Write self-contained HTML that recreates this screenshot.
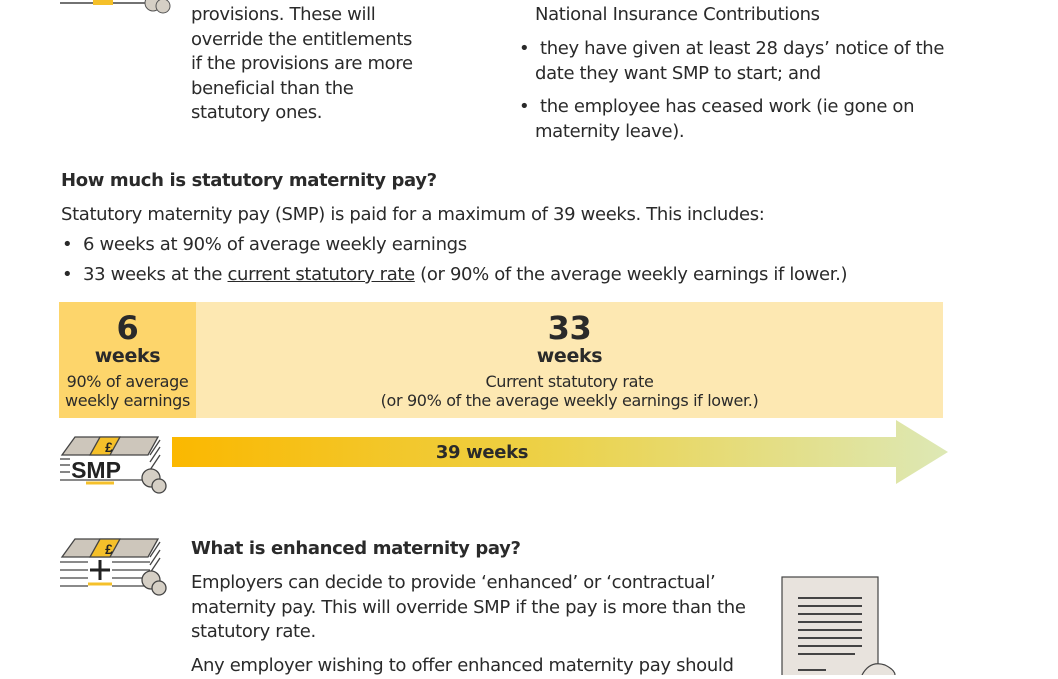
<!DOCTYPE html>
<html><head><meta charset="utf-8"><style>
body{margin:0;width:1058px;height:675px;overflow:hidden;background:#fff;font-family:"DejaVu Sans","Liberation Sans",sans-serif;color:#2a2a2a;position:relative}
.t{position:absolute;white-space:nowrap;font-size:18px;line-height:24.5px;letter-spacing:-0.35px}
.b{font-weight:bold}
.c{text-align:center}
</style></head><body>
<svg style="position:absolute;left:55px;top:0" width="120" height="20"><line x1="5" y1="3" x2="95" y2="3" stroke="#444" stroke-width="1.5"/><rect x="38" y="0" width="20" height="5" fill="#f5c02a"/><circle cx="98" cy="3" r="8" fill="#d5cfc5" stroke="#555"/><circle cx="108" cy="6" r="7" fill="#d5cfc5" stroke="#555"/></svg>
<div class="t" style="left:191px;top:3px">provisions. These will<br>override the entitlements<br>if the provisions are more<br>beneficial than the<br>statutory ones.</div>
<div class="t" style="left:535px;top:3px">National Insurance Contributions</div>
<div class="t" style="left:519px;top:37px">•&nbsp;&nbsp;they have given at least 28 days’ notice of the</div>
<div class="t" style="left:535px;top:62px">date they want SMP to start; and</div>
<div class="t" style="left:519px;top:95px">•&nbsp;&nbsp;the employee has ceased work (ie gone on</div>
<div class="t" style="left:535px;top:120px">maternity leave).</div>
<div class="t b" style="left:61px;top:169px">How much is statutory maternity pay?</div>
<div class="t" style="left:61px;top:203px">Statutory maternity pay (SMP) is paid for a maximum of 39 weeks. This includes:</div>
<div class="t" style="left:62px;top:233px">•&nbsp;&nbsp;6 weeks at 90% of average weekly earnings</div>
<div class="t" style="left:62px;top:263px">•&nbsp;&nbsp;33 weeks at the <u>current statutory rate</u> (or 90% of the average weekly earnings if lower.)</div>
<div style="position:absolute;left:59px;top:302px;width:137px;height:116px;background:#fdd56b"></div>
<div style="position:absolute;left:196px;top:302px;width:747px;height:116px;background:#fde8b2"></div>
<div class="t c b" style="left:59px;width:137px;top:308px;font-size:32px;line-height:40px">6</div>
<div class="t c b" style="left:59px;width:137px;top:344px;font-size:19px">weeks</div>
<div class="t c" style="left:59px;width:137px;top:372px;font-size:16px;line-height:19px">90% of average<br>weekly earnings</div>
<div class="t c b" style="left:196px;width:747px;top:308px;font-size:32px;line-height:40px">33</div>
<div class="t c b" style="left:196px;width:747px;top:344px;font-size:19px">weeks</div>
<div class="t c" style="left:196px;width:747px;top:372px;font-size:16px;line-height:19px">Current statutory rate<br>(or 90% of the average weekly earnings if lower.)</div>
<svg style="position:absolute;left:0;top:0" width="1058" height="675">
<defs><linearGradient id="g" x1="172" x2="948" y1="0" y2="0" gradientUnits="userSpaceOnUse"><stop offset="0" stop-color="#fbb800"/><stop offset="0.5" stop-color="#ecd24a"/><stop offset="1" stop-color="#dde8b5"/></linearGradient></defs>
<polygon points="172,437 896,437 896,420 948,452 896,484 896,467 172,467" fill="url(#g)"/>
<g stroke="#444" stroke-width="1.3">
<polygon points="75,437 158,437 148,455 62,455" fill="#cdc6bb"/>
<polygon points="100,437 120,437 110,455 90,455" fill="#f5c02a"/>
<line x1="60" y1="459" x2="70" y2="459"/><line x1="60" y1="465" x2="70" y2="465"/><line x1="60" y1="472" x2="70" y2="472"/>
<line x1="60" y1="480" x2="150" y2="480"/><line x1="150" y1="455" x2="160" y2="440"/><line x1="150" y1="462" x2="160" y2="447"/><line x1="150" y1="470" x2="160" y2="455"/>
<circle cx="151" cy="478" r="9" fill="#d5cfc5"/><circle cx="159" cy="486" r="7" fill="#d5cfc5"/>
</g>
<line x1="86" y1="483" x2="114" y2="483" stroke="#f5c02a" stroke-width="3"/>
<text x="96" y="478" font-family="Liberation Sans" font-weight="bold" font-size="23" text-anchor="middle" fill="#222">SMP</text>
<text x="109" y="452" font-family="Liberation Sans" font-weight="bold" font-size="14" text-anchor="middle" fill="#222">£</text>
<g stroke="#444" stroke-width="1.3">
<polygon points="75,539 158,539 148,557 62,557" fill="#cdc6bb"/>
<polygon points="100,539 120,539 110,557 90,557" fill="#f5c02a"/>
<line x1="60" y1="562" x2="150" y2="562"/><line x1="60" y1="570" x2="150" y2="570"/><line x1="60" y1="578" x2="150" y2="578"/><line x1="60" y1="586" x2="150" y2="586"/>
<line x1="150" y1="557" x2="160" y2="542"/><line x1="150" y1="565" x2="160" y2="550"/><line x1="150" y1="573" x2="160" y2="558"/>
<circle cx="151" cy="580" r="9" fill="#d5cfc5"/><circle cx="159" cy="588" r="7" fill="#d5cfc5"/>
</g>
<rect x="88" y="560" width="24" height="28" fill="#fff"/>
<line x1="100" y1="560" x2="100" y2="580" stroke="#222" stroke-width="3"/><line x1="90" y1="570" x2="110" y2="570" stroke="#222" stroke-width="3"/>
<line x1="88" y1="584" x2="112" y2="584" stroke="#f5c02a" stroke-width="3"/>
<text x="109" y="554" font-family="Liberation Sans" font-weight="bold" font-size="14" text-anchor="middle" fill="#222">£</text>
<rect x="782" y="577" width="96" height="110" fill="#e8e3dd" stroke="#444" stroke-width="1.2"/>
<g stroke="#444" stroke-width="2"><line x1="798" y1="598" x2="862" y2="598"/><line x1="798" y1="606" x2="862" y2="606"/><line x1="798" y1="614" x2="862" y2="614"/><line x1="798" y1="622" x2="862" y2="622"/><line x1="798" y1="630" x2="862" y2="630"/><line x1="798" y1="638" x2="862" y2="638"/><line x1="798" y1="646" x2="862" y2="646"/><line x1="798" y1="654" x2="855" y2="654"/><line x1="798" y1="670" x2="826" y2="670"/></g>
<path d="M862,675 Q870,660 885,665 Q895,670 895,675" fill="#e8e3dd" stroke="#444" stroke-width="1.2"/>
</svg>
<div class="t c b" style="left:172px;width:620px;top:441px;font-size:18px">39 weeks</div>
<div class="t b" style="left:191px;top:537px">What is enhanced maternity pay?</div>
<div class="t" style="left:191px;top:571px">Employers can decide to provide ‘enhanced’ or ‘contractual’<br>maternity pay. This will override SMP if the pay is more than the<br>statutory rate.</div>
<div class="t" style="left:191px;top:654px">Any employer wishing to offer enhanced maternity pay should</div>
</body></html>
